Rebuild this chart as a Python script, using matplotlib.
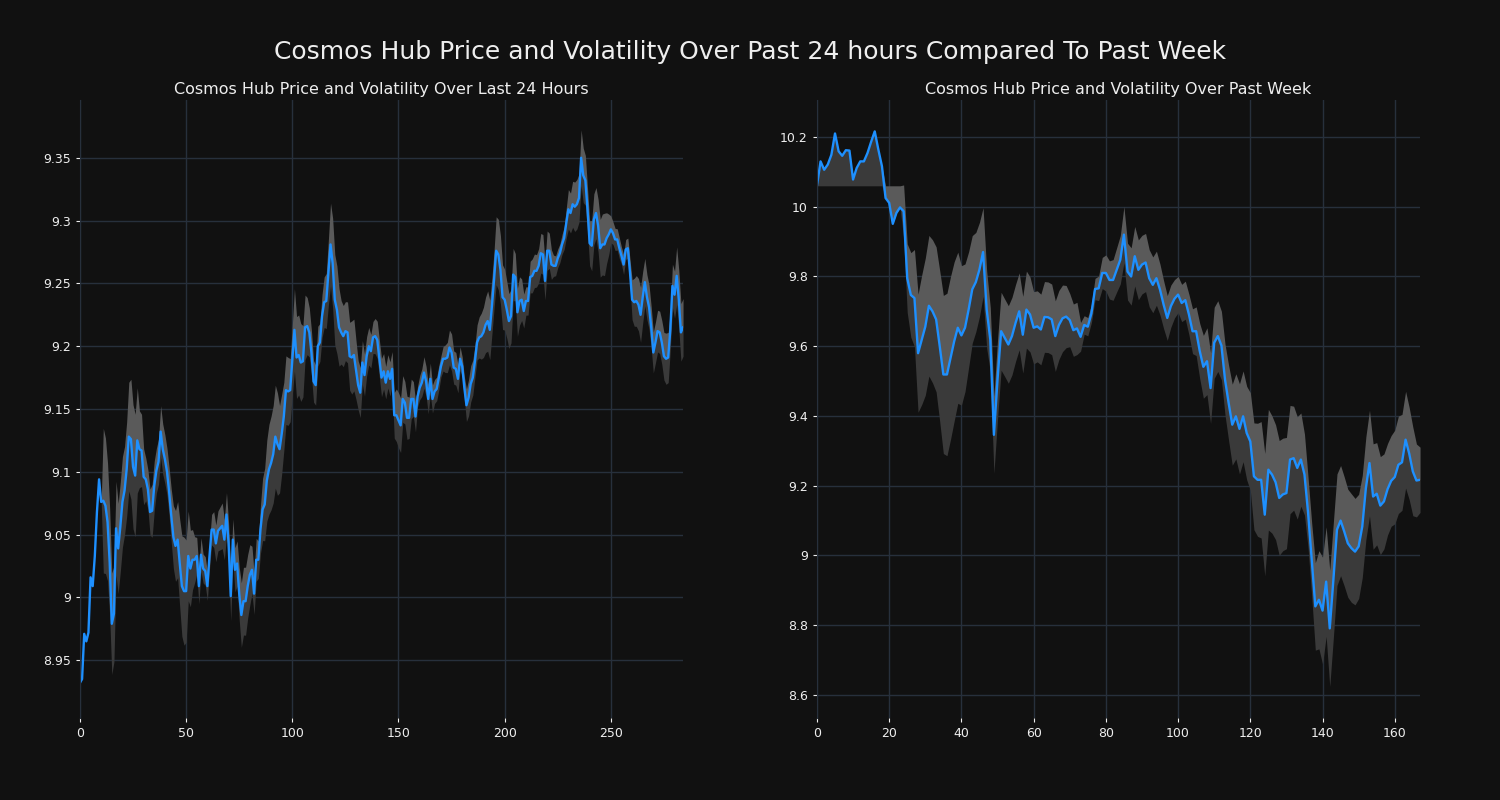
import numpy as np
import pandas as pd
import matplotlib
matplotlib.use('Agg')
import matplotlib.pyplot as plt
from matplotlib.ticker import FuncFormatter

# Prix sur 24h (pas de 5 min)
day_price = [
    8.932, 8.935, 8.971, 8.965, 8.972, 9.016, 9.009, 9.033, 9.068, 9.094,
    9.076, 9.077, 9.073, 9.060, 9.028, 8.979, 8.987, 9.055, 9.039, 9.056,
    9.076, 9.085, 9.102, 9.128, 9.126, 9.104, 9.097, 9.125, 9.118, 9.117,
    9.096, 9.094, 9.086, 9.068, 9.069, 9.089, 9.101, 9.108, 9.132, 9.118,
    9.110, 9.100, 9.084, 9.065, 9.048, 9.041, 9.046, 9.027, 9.009, 9.005,
    9.005, 9.033, 9.023, 9.030, 9.030, 9.033, 9.009, 9.034, 9.023, 9.021,
    9.009, 9.033, 9.054, 9.054, 9.043, 9.053, 9.055, 9.057, 9.046, 9.066,
    9.043, 9.001, 9.046, 9.022, 9.027, 9.003, 8.986, 8.997, 8.997, 9.009,
    9.018, 9.022, 9.003, 9.030, 9.030, 9.054, 9.070, 9.074, 9.093, 9.102,
    9.107, 9.114, 9.128, 9.122, 9.118, 9.130, 9.144, 9.165, 9.164, 9.165,
    9.189, 9.213, 9.191, 9.193, 9.187, 9.188, 9.215, 9.216, 9.211, 9.195,
    9.172, 9.169, 9.200, 9.203, 9.224, 9.235, 9.236, 9.259, 9.281, 9.266,
    9.237, 9.229, 9.215, 9.211, 9.208, 9.212, 9.211, 9.192, 9.191, 9.193,
    9.181, 9.169, 9.163, 9.187, 9.177, 9.192, 9.200, 9.196, 9.207, 9.208,
    9.205, 9.190, 9.175, 9.180, 9.171, 9.180, 9.174, 9.182, 9.145, 9.145,
    9.141, 9.137, 9.158, 9.155, 9.143, 9.143, 9.158, 9.158, 9.144, 9.160,
    9.167, 9.171, 9.179, 9.172, 9.158, 9.174, 9.158, 9.164, 9.166, 9.175,
    9.184, 9.190, 9.190, 9.191, 9.199, 9.195, 9.183, 9.182, 9.174, 9.190,
    9.184, 9.167, 9.153, 9.159, 9.170, 9.175, 9.188, 9.203, 9.207, 9.208,
    9.211, 9.217, 9.220, 9.213, 9.232, 9.253, 9.276, 9.273, 9.261, 9.239,
    9.237, 9.229, 9.220, 9.224, 9.257, 9.255, 9.227, 9.236, 9.237, 9.228,
    9.236, 9.236, 9.255, 9.256, 9.260, 9.260, 9.264, 9.274, 9.273, 9.252,
    9.276, 9.276, 9.265, 9.264, 9.264, 9.270, 9.274, 9.281, 9.286, 9.298,
    9.309, 9.306, 9.313, 9.311, 9.313, 9.318, 9.350, 9.336, 9.332, 9.309,
    9.282, 9.280, 9.301, 9.306, 9.296, 9.278, 9.281, 9.281, 9.286, 9.289,
    9.293, 9.290, 9.285, 9.285, 9.278, 9.272, 9.265, 9.277, 9.278, 9.259,
    9.237, 9.235, 9.236, 9.233, 9.225, 9.239, 9.251, 9.239, 9.231, 9.215,
    9.195, 9.203, 9.212, 9.211, 9.203, 9.192, 9.190, 9.191, 9.213, 9.248,
    9.241, 9.256, 9.237, 9.211, 9.215,
]

# Prix sur la semaine (pas de 1 h)
week_price = [
    10.060, 10.130, 10.106, 10.121, 10.149, 10.210, 10.159, 10.146, 10.162, 10.161,
    10.078, 10.111, 10.130, 10.130, 10.154, 10.186, 10.216, 10.164, 10.116, 10.025,
    10.011, 9.951, 9.982, 9.998, 9.987, 9.795, 9.747, 9.738, 9.580, 9.618,
    9.656, 9.716, 9.700, 9.677, 9.600, 9.519, 9.519, 9.567, 9.614, 9.653,
    9.631, 9.653, 9.705, 9.763, 9.784, 9.820, 9.870, 9.705, 9.619, 9.346,
    9.504, 9.643, 9.624, 9.605, 9.629, 9.667, 9.700, 9.633, 9.705, 9.691,
    9.653, 9.657, 9.648, 9.684, 9.683, 9.677, 9.629, 9.661, 9.680, 9.685,
    9.675, 9.646, 9.651, 9.627, 9.661, 9.656, 9.694, 9.764, 9.766, 9.810,
    9.810, 9.790, 9.790, 9.819, 9.848, 9.920, 9.814, 9.800, 9.858, 9.819,
    9.834, 9.840, 9.795, 9.776, 9.795, 9.762, 9.719, 9.681, 9.715, 9.736,
    9.748, 9.724, 9.732, 9.691, 9.643, 9.643, 9.586, 9.541, 9.557, 9.480,
    9.610, 9.629, 9.602, 9.504, 9.437, 9.375, 9.399, 9.363, 9.399, 9.351,
    9.327, 9.227, 9.217, 9.217, 9.117, 9.246, 9.232, 9.210, 9.165, 9.175,
    9.179, 9.275, 9.279, 9.251, 9.275, 9.232, 9.122, 8.988, 8.854, 8.873,
    8.842, 8.925, 8.791, 8.930, 9.074, 9.100, 9.069, 9.035, 9.021, 9.011,
    9.026, 9.083, 9.193, 9.265, 9.169, 9.177, 9.143, 9.155, 9.190, 9.214,
    9.225, 9.260, 9.267, 9.332, 9.292, 9.241, 9.215, 9.217,
]

day_window = 12
week_window = 24

bg = '#111111'
grid_col = '#27303c'
line_col = '#1e90ff'
txt_col = '#eeeeee'


def bands(price, window, flat_start=False):
    s = pd.Series(price)
    vol = s.rolling(window).std()
    lower = s - vol
    upper = s + vol
    if flat_start:
        lower[:window] = price[0]
        upper[:window] = price[0]
    return lower.values, upper.values


fig, axes = plt.subplots(1, 2, figsize=(15, 8), dpi=100)
fig.patch.set_facecolor(bg)
fig.subplots_adjust(left=0.0533, right=0.9467, top=0.875, bottom=0.1025, wspace=0.222)

panels = [
    (axes[0], day_price, day_window, False, 'Cosmos Hub Price and Volatility Over Last 24 Hours',
     (8.904, 9.396), [8.95, 9.0, 9.05, 9.1, 9.15, 9.2, 9.25, 9.3, 9.35], [0, 50, 100, 150, 200, 250]),
    (axes[1], week_price, week_window, True, 'Cosmos Hub Price and Volatility Over Past Week',
     (8.534, 10.306), [8.6, 8.8, 9.0, 9.2, 9.4, 9.6, 9.8, 10.0, 10.2], [0, 20, 40, 60, 80, 100, 120, 140, 160]),
]

for ax, price, window, flat, title, ylim, yticks, xticks in panels:
    x = np.arange(len(price))
    p = np.array(price)
    lo, hi = bands(price, window, flat)
    ax.set_facecolor(bg)
    # partie basse plus sombre, partie haute plus claire
    ax.fill_between(x, np.fmin(lo, p), p, color='#3a3a3a', linewidth=0)
    ax.fill_between(x, p, np.fmax(hi, p), color='#5a5a5a', linewidth=0)
    ax.plot(x, p, color=line_col, linewidth=1.7)
    ax.set_xlim(0, len(price) - 1)
    ax.set_ylim(*ylim)
    ax.set_yticks(yticks)
    ax.set_xticks(xticks)
    ax.yaxis.set_major_formatter(FuncFormatter(lambda v, pos: '{:g}'.format(round(v, 2))))
    ax.grid(True, color=grid_col, linewidth=1)
    ax.set_axisbelow(True)
    for side in ['top', 'right', 'bottom']:
        ax.spines[side].set_visible(False)
    ax.spines['left'].set_color(grid_col)
    ax.tick_params(colors=txt_col, labelsize=9, length=3)
    ax.set_title(title, color=txt_col, fontsize=11.5, pad=4)

fig.suptitle('Cosmos Hub Price and Volatility Over Past 24 hours Compared To Past Week',
             color=txt_col, fontsize=18, y=0.95)

plt.savefig('out.png', facecolor=bg)
